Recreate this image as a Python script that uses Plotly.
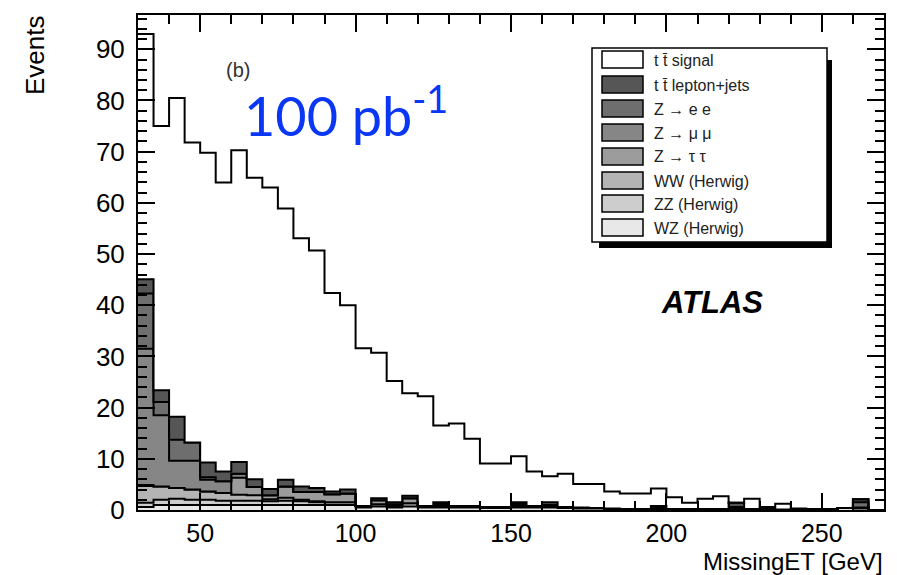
import numpy as np
import plotly.graph_objects as go

# Histogram binning (MissingET, 5 GeV bins from 30 to 270 GeV)
bin_edges = list(range(30, 275, 5))

# Stacked contributions per bin (events)
signal = [47.9, 51.6, 62.3, 58.6, 60.5, 56.5, 60.9, 58.9, 58.9, 53.0,
          48.5, 46.4, 38.8, 36.0, 30.8, 28.4, 23.7, 20.0, 21.4, 15.0,
          16.1, 13.1, 8.5, 8.5, 9.0, 6.7, 5.1, 6.5, 4.6, 4.7,
          3.3, 3.0, 3.0, 3.4, 2.3, 1.2, 2.0, 2.5, 0.0, 2.0,
          0.3, 1.1, 0.1, 0.0, 0.0, 0.0, 0.0, 0.0]
tt_ljets = [2.8, 2.3, 4.5, 0.0, 2.9, 1.9, 2.3, 1.5, 1.2, 1.3,
            1.1, 0.8, 0.5, 0.8, 0.0, 0.4, 0.4, 0.5, 0.0, 0.3,
            0.0, 0.0, 0.0, 0.0, 0.3, 0.0, 0.5, 0.0, 0.0, 0.0,
            0.0, 0.0, 0.0, 0.0, 0.0, 0.0, 0.0, 0.0, 0.8, 0.0,
            0.0, 0.0, 0.0, 0.0, 0.0, 0.0, 0.6, 0.0]
z_ee = [10.8, 2.6, 4.1, 3.6, 0.5, 0.0, 0.0, 0.0, 0.0, 0.0,
        0.0, 0.0, 0.0, 0.0, 0.0, 0.0, 0.0, 0.0, 0.0, 0.0,
        0.0, 0.0, 0.0, 0.0, 0.0, 0.0, 0.3, 0.0, 0.0, 0.0,
        0.0, 0.0, 0.0, 0.0, 0.0, 0.0, 0.0, 0.0, 0.3, 0.0,
        0.0, 0.0, 0.0, 0.0, 0.0, 0.0, 1.0, 0.0]
z_mumu = [26.6, 13.9, 5.3, 5.6, 2.3, 2.3, 0.8, 0.0, 0.0, 0.0,
          0.0, 0.0, 0.0, 0.0, 0.0, 0.0, 0.0, 0.0, 0.0, 0.0,
          0.0, 0.0, 0.0, 0.0, 0.0, 0.0, 0.0, 0.0, 0.0, 0.0,
          0.0, 0.0, 0.0, 0.0, 0.0, 0.0, 0.0, 0.0, 0.0, 0.0,
          0.0, 0.0, 0.0, 0.0, 0.0, 0.0, 0.0, 0.0]
z_tautau = [0.2, 0.0, 0.0, 0.0, 0.0, 0.0, 3.3, 1.6, 0.8, 2.2,
            1.5, 1.8, 1.6, 1.7, 0.0, 0.8, 0.3, 1.0, 0.0, 0.4,
            0.0, 0.0, 0.0, 0.0, 0.4, 0.0, 0.0, 0.0, 0.0, 0.0,
            0.0, 0.0, 0.0, 0.4, 0.0, 0.0, 0.0, 0.0, 0.0, 0.0,
            0.0, 0.0, 0.0, 0.0, 0.0, 0.0, 0.0, 0.0]
ww = [3.3, 2.6, 2.1, 2.0, 1.6, 1.5, 1.2, 1.1, 0.4, 0.6,
      0.3, 0.2, 0.0, 0.0, 0.0, 0.0, 0.0, 0.0, 0.0, 0.0,
      0.0, 0.0, 0.0, 0.0, 0.0, 0.0, 0.0, 0.0, 0.0, 0.0,
      0.0, 0.0, 0.0, 0.0, 0.0, 0.0, 0.0, 0.0, 0.0, 0.0,
      0.0, 0.0, 0.0, 0.0, 0.0, 0.0, 0.0, 0.0]
zz = [0.8, 1.0, 1.2, 1.0, 1.0, 0.8, 0.8, 0.8, 0.7, 0.8,
      0.7, 0.5, 0.5, 0.5, 0.3, 0.4, 0.3, 0.6, 0.3, 0.3,
      0.3, 0.3, 0.2, 0.2, 0.3, 0.3, 0.2, 0.2, 0.2, 0.1,
      0.1, 0.1, 0.1, 0.2, 0.1, 0.1, 0.0, 0.0, 0.0, 0.0,
      0.1, 0.0, 0.0, 0.0, 0.1, 0.0, 0.2, 0.0]
wz = [0.6, 1.0, 1.0, 1.0, 1.0, 1.0, 1.0, 1.0, 1.0, 1.0,
      1.0, 1.0, 1.0, 1.0, 0.5, 0.7, 0.5, 0.7, 0.5, 0.5,
      0.5, 0.5, 0.4, 0.4, 0.5, 0.5, 0.5, 0.4, 0.3, 0.3,
      0.2, 0.1, 0.1, 0.2, 0.1, 0.1, 0.2, 0.2, 0.3, 0.2,
      0.2, 0.1, 0.2, 0.1, 0.1, 0.4, 0.3, 0.0]

legend_labels = ["t t\u0304 signal", "t t\u0304 lepton+jets", "Z \u2192 e e", "Z \u2192 \u03bc \u03bc",
                 "Z \u2192 \u03c4 \u03c4", "WW (Herwig)", "ZZ (Herwig)", "WZ (Herwig)"]
legend_colors = ["#ffffff", "#565656", "#6e6e6e", "#868686", "#9c9c9c", "#b4b4b4", "#cdcdcd", "#e8e8e8"]
series = [signal, tt_ljets, z_ee, z_mumu, z_tautau, ww, zz, wz]

x_ticks = [50, 100, 150, 200, 250]
X_RANGE = [30, 270]
Y_RANGE = [0, 96.7]

W, H = 897, 575
L, R, T, B = 138, 884, 15, 510

def px(xp):
    return (xp - L) / (R - L)

def py(yp):
    return (B - yp) / (B - T)

fig = go.Figure()

# Stack from bottom (last in legend) to top (first in legend)
cum = np.zeros(len(signal))
for k, idx in enumerate(reversed(range(len(series)))):
    vals = np.array(series[idx], dtype=float)
    cum = cum + vals
    yv = list(cum) + [cum[-1]]
    fig.add_trace(go.Scatter(
        x=bin_edges, y=yv, mode="lines",
        line=dict(shape="hv", color="black", width=2),
        fill="tozeroy" if k == 0 else "tonexty",
        fillcolor=legend_colors[idx],
        name=legend_labels[idx], showlegend=False, hoverinfo="skip"))

font_family = "Liberation Sans, Arial, sans-serif"
axis_common = dict(
    showline=True, linewidth=2, linecolor="black", mirror="ticks",
    ticks="inside", ticklen=17, tickwidth=1.5, tickcolor="black",
    showgrid=False, zeroline=False,
)
fig.update_xaxes(range=X_RANGE, tickvals=x_ticks, ticklabelstandoff=0,
                 tickfont=dict(family=font_family, size=25, color="black"),
                 minor=dict(ticks="inside", dtick=10, tick0=0, ticklen=9,
                            tickwidth=1.5, tickcolor="black", showgrid=False),
                 **axis_common)
fig.update_yaxes(range=Y_RANGE, dtick=10, tick0=0, ticklabelstandoff=6,
                 tickfont=dict(family=font_family, size=26, color="black"),
                 minor=dict(ticks="inside", dtick=2, tick0=0, ticklen=9,
                            tickwidth=1.5, tickcolor="black", showgrid=False),
                 **axis_common)

shapes = []
annotations = []

# Legend box with shadow
shapes.append(dict(type="rect", xref="paper", yref="paper",
                   x0=px(599), x1=px(832), y0=py(60), y1=py(248),
                   fillcolor="black", line=dict(width=0)))
shapes.append(dict(type="rect", xref="paper", yref="paper",
                   x0=px(592), x1=px(827), y0=py(48), y1=py(242),
                   fillcolor="white", line=dict(color="black", width=1.5)))
row_y = [60, 85, 109, 133, 157, 181, 204, 228]
for i, lab in enumerate(legend_labels):
    yc = row_y[i]
    shapes.append(dict(type="rect", xref="paper", yref="paper",
                       x0=px(602), x1=px(643), y0=py(yc - 9), y1=py(yc + 8),
                       fillcolor=legend_colors[i], line=dict(color="black", width=1.5)))
    annotations.append(dict(xref="paper", yref="paper", x=px(652), y=py(yc),
                            xanchor="left", yanchor="middle", showarrow=False,
                            text=lab, font=dict(family=font_family, size=16, color="#222")))

annotations += [
    dict(xref="paper", yref="paper", x=px(35), y=py(55), text="Events",
         textangle=-90, showarrow=False, xanchor="center", yanchor="middle",
         font=dict(family=font_family, size=26, color="black")),
    dict(xref="paper", yref="paper", x=px(885), y=py(561), text="MissingET [GeV]",
         showarrow=False, xanchor="right", yanchor="middle",
         font=dict(family=font_family, size=24, color="black")),
    dict(xref="paper", yref="paper", x=px(238), y=py(70), text="(b)",
         showarrow=False, xanchor="center", yanchor="middle",
         font=dict(family=font_family, size=20, color="#333")),
    dict(xref="paper", yref="paper", x=px(242), y=py(112), text="100 pb<sup>-1</sup>",
         showarrow=False, xanchor="left", yanchor="middle",
         font=dict(family="Lato, Liberation Sans, sans-serif", size=54, color="#0a37f5")),
    dict(xref="paper", yref="paper", x=px(712), y=py(302), text="<b><i>ATLAS</i></b>",
         showarrow=False, xanchor="center", yanchor="middle",
         font=dict(family=font_family, size=31, color="black")),
]

fig.update_layout(
    width=W, height=H,
    margin=dict(l=L, r=W - R, t=T, b=H - B),
    paper_bgcolor="white", plot_bgcolor="white",
    shapes=shapes, annotations=annotations, showlegend=False,
)

fig.write_html("out.html")
